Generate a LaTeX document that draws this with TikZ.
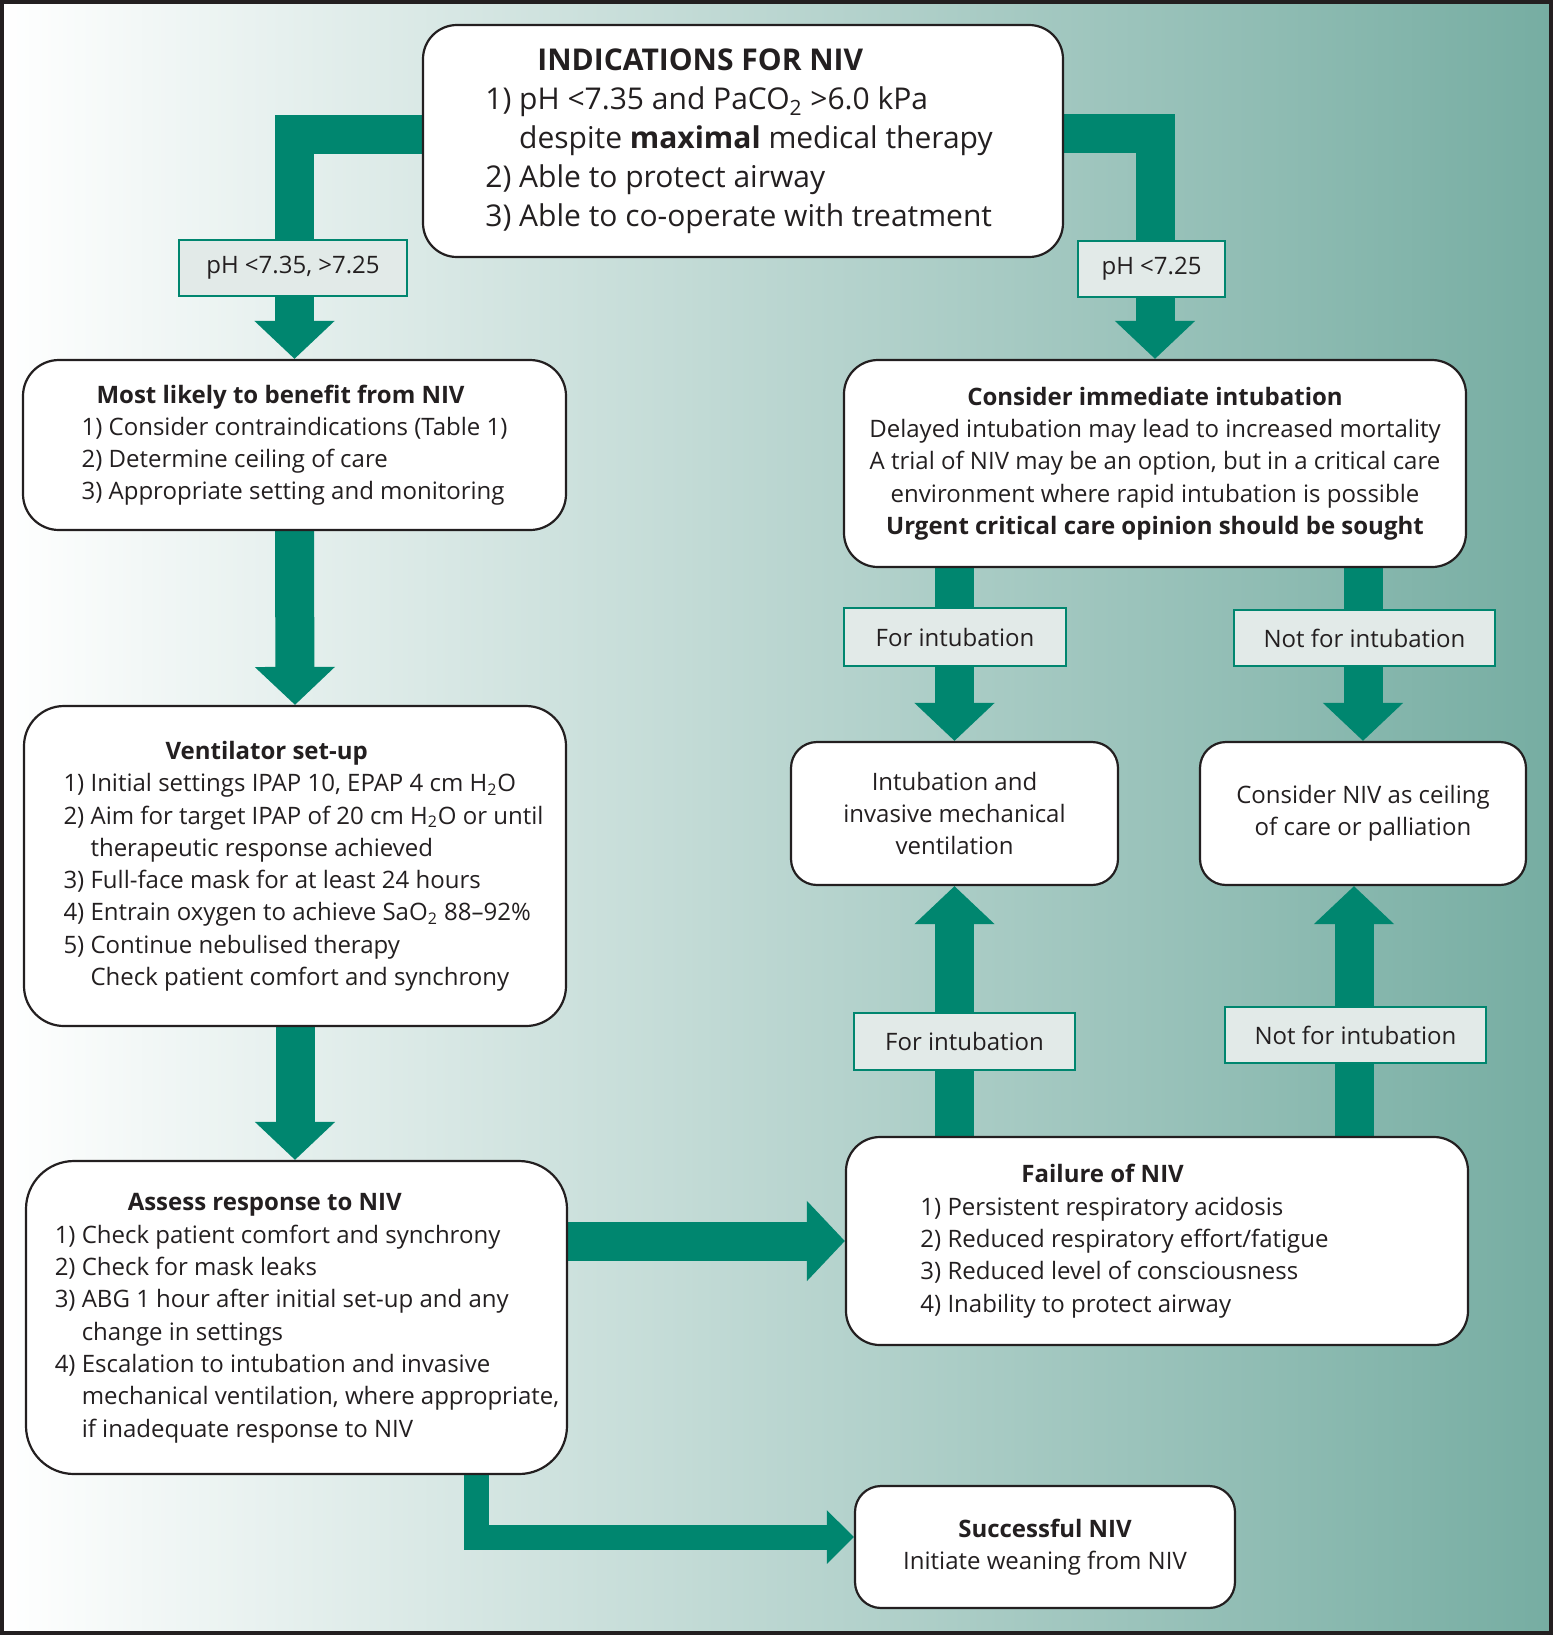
\documentclass[tikz,border=0pt]{standalone}
\usepackage{fontspec}
\setmainfont{Open Sans}
\usetikzlibrary{positioning, arrows.meta, backgrounds}

\definecolor{nivgreen}{HTML}{00866F}
\definecolor{nivtag}{HTML}{E2EAE8}
\definecolor{nivbg}{HTML}{76ADA2}
\definecolor{nivink}{HTML}{231F20}

\begin{document}
\begin{tikzpicture}[
    x=0.5pt, y=-0.5pt,
    box/.style = {rectangle, draw=nivink, line width=1.1pt, fill=white, rounded corners=17pt, inner sep=0pt, text=nivink, font=\fontsize{12}{16.15}\selectfont},
    cond/.style = {rectangle, draw=nivgreen, line width=1pt, fill=nivtag, inner sep=0pt, minimum height=28pt, text=nivink, font=\fontsize{12}{16.15}\selectfont},
    flow/.style = {draw=nivgreen, line width=19.5pt, -{Triangle[length=19pt, width=39pt]}},
    thinflow/.style = {draw=nivgreen, line width=12.5pt, -{Triangle[length=13.5pt, width=26pt]}}
]
\useasboundingbox (0,0) rectangle (1553,1635);

% boxes
\node[box, minimum width=320pt, minimum height=116pt, font=\fontsize{15}{19.5}\selectfont] (top) at (743,141) {\begin{tabular}{@{}l@{}}
    \hspace*{26pt}\textbf{INDICATIONS FOR NIV}\\
    1) pH <7.35 and PaCO\textsubscript{2} >6.0 kPa\\
    \phantom{1) }despite \textbf{maximal} medical therapy\\
    2) Able to protect airway\\
    3) Able to co-operate with treatment
  \end{tabular}\hspace*{4pt}};

\node[box, minimum width=271.5pt, minimum height=85pt, rounded corners=18pt] (likely) at (294.5,445) {\begin{tabular}{@{}l@{}}
    \hspace*{7.5pt}\textbf{Most likely to benefit from NIV}\\
    1) Consider contraindications (Table 1)\\
    2) Determine ceiling of care\\
    3) Appropriate setting and monitoring
  \end{tabular}};

\node[box, minimum width=271pt, minimum height=160pt, rounded corners=20pt] (vent) at (295,866) {\hspace*{8.5pt}\begin{tabular}{@{}l@{}}
    \hspace*{51pt}\textbf{Ventilator set-up}\\
    1) Initial settings IPAP 10, EPAP 4 cm H\textsubscript{2}O\\
    2) Aim for target IPAP of 20 cm H\textsubscript{2}O or until\\
    \phantom{2) }therapeutic response achieved\\
    3) Full-face mask for at least 24 hours\\
    4) Entrain oxygen to achieve SaO\textsubscript{2} 88--92\%\\
    5) Continue nebulised therapy\\
    \phantom{5) }Check patient comfort and synchrony
  \end{tabular}};

\node[box, minimum width=270.5pt, minimum height=156.5pt, rounded corners=24pt] (assess) at (296.5,1317.5) {\hspace*{10.5pt}\begin{tabular}{@{}l@{}}
    \hspace*{36.5pt}\textbf{Assess response to NIV}\\
    1) Check patient comfort and synchrony\\
    2) Check for mask leaks\\
    3) ABG 1 hour after initial set-up and any\\
    \phantom{3) }change in settings\\
    4) Escalation to intubation and invasive\\
    \phantom{4) }mechanical ventilation, where appropriate,\\
    \phantom{4) }if inadequate response to NIV
  \end{tabular}};

\node[box, minimum width=311pt, minimum height=103.5pt, align=center] (consider) at (1155,463.5) {\textbf{Consider immediate intubation}\\
    Delayed intubation may lead to increased mortality\\
    A trial of NIV may be an option, but in a critical care\\
    environment where rapid intubation is possible\\
    \textbf{Urgent critical care opinion should be sought}};

\node[box, minimum width=163.5pt, minimum height=71.5pt, rounded corners=13pt, align=center] (intub) at (954.5,813.5) {Intubation and\\invasive mechanical\\ventilation};
\node[box, minimum width=163pt, minimum height=71.5pt, rounded corners=13pt, align=center] (ceiling) at (1363,813.5) {Consider NIV as ceiling\\of care or palliation};

\node[box, minimum width=311pt, minimum height=104pt] (fail) at (1157,1241) {\begin{tabular}{@{}l@{}}
    \hspace*{50.5pt}\textbf{Failure of NIV}\\
    1) Persistent respiratory acidosis\\
    2) Reduced respiratory effort/fatigue\\
    3) Reduced level of consciousness\\
    4) Inability to protect airway
  \end{tabular}\hspace*{32.5pt}};

\node[box, minimum width=190pt, minimum height=61pt, rounded corners=13pt, align=center] (success) at (1045,1547) {\textbf{Successful NIV}\\Initiate weaning from NIV};

% connectors
\begin{scope}[on background layer]
  \shade[left color=white, right color=nivbg] (0,0) rectangle (1553,1635);
  \coordinate (upright) at ([xshift=-4.5pt]ceiling.south);
  \draw[flow] ([yshift=3.25pt]top.west) -| (likely.north);
  \draw[flow] ([yshift=3.75pt]top.east) -| (consider.north);
  \draw[flow] (likely.south) -- (vent.north);
  \draw[flow] (vent.south) -- (vent.south |- assess.north);
  \draw[flow] (consider.south -| intub.north) -- (intub.north);
  \draw[flow] (consider.south -| ceiling.north) -- (ceiling.north);
  \draw[flow] (fail.north -| intub.south) -- (intub.south);
  \draw[flow] (upright |- fail.north) -- (upright);
  \draw[flow] (assess.east |- fail.west) -- (fail.west);
  \draw[thinflow] ([xshift=89.75pt]assess.south) |- ([yshift=5pt]success.west);
\end{scope}

% labels on the arrows
\node[cond, minimum width=114pt] (mildph) at (293,268) {pH <7.35, >7.25};
\node[cond, minimum width=73.5pt] (lowph) at (1151.5,269) {pH <7.25};
\node[cond, minimum width=111pt, minimum height=29pt] (forup) at (955,637) {For intubation};
\node[cond, minimum width=130.5pt] (notup) at (1364.5,638) {Not for intubation};
\node[cond, minimum width=110.5pt, minimum height=28.5pt] (fordown) at (964.5,1041.5) {For intubation};
\node[cond, minimum width=130.5pt] (notdown) at (1355.5,1035) {Not for intubation};

\draw[nivink, line width=2pt] (2,2) rectangle (1551,1633);
\end{tikzpicture}
\end{document}
